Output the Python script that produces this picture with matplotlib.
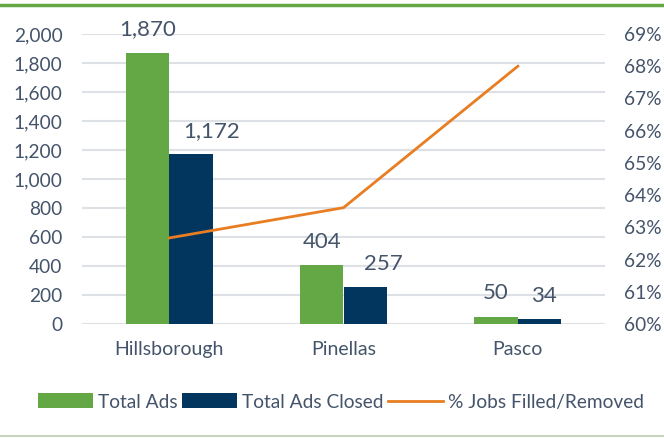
import matplotlib
matplotlib.use("Agg")
import matplotlib.pyplot as plt
import numpy as np
from matplotlib.lines import Line2D
from matplotlib.ticker import FuncFormatter

plt.rcParams['font.family'] = ['Lato', 'DejaVu Sans']

categories = ["Hillsborough", "Pinellas", "Pasco"]
total_ads = [1870, 404, 50]
total_ads_closed = [1172, 257, 34]
pct_filled = [62.67, 63.61, 68.0]
left_ticks = [0, 200, 400, 600, 800, 1000, 1200, 1400, 1600, 1800, 2000]
right_ticks = [60, 61, 62, 63, 64, 65, 66, 67, 68, 69]

GREEN = "#64A845"
NAVY = "#03365E"
ORANGE = "#E87D22"
TEXT = "#44546A"
GRID = "#DDE1E6"

fig = plt.figure(figsize=(6.64, 4.38), dpi=100)
ax = fig.add_axes([82/664, 1-324/438, (605-82)/664, (324-34)/438])
ax2 = ax.twinx()

x = np.arange(len(categories))
w = 0.25
ax.set_zorder(1)
ax2.set_zorder(2)
ax.patch.set_visible(False)

b1 = ax.bar(x - w/2, total_ads, width=w, color=GREEN, zorder=3, label="Total Ads")
b2 = ax.bar(x + w/2, total_ads_closed, width=w, color=NAVY, zorder=3, label="Total Ads Closed")
ln, = ax2.plot(x, pct_filled, color=ORANGE, lw=2, label="% Jobs Filled/Removed")

ax.set_xlim(-0.5, 2.5)
ax.set_ylim(0, 2000)
ax2.set_ylim(60, 69)
ax.set_yticks(left_ticks)
ax2.set_yticks(right_ticks)
ax.yaxis.set_major_formatter(FuncFormatter(lambda v, p: f"{int(v):,}"))
ax2.yaxis.set_major_formatter(FuncFormatter(lambda v, p: f"{int(round(v))}%"))
ax.set_xticks(x)
ax.set_xticklabels(categories)

ax.grid(axis='y', color=GRID, lw=1.5, zorder=0)
ax.set_axisbelow(True)
for a in (ax, ax2):
    for s in a.spines.values():
        s.set_visible(False)
ax.tick_params(axis='y', length=0, pad=14, labelsize=13.8, labelcolor=TEXT)
ax2.tick_params(axis='y', length=0, pad=14, labelsize=13.8, labelcolor=TEXT)
ax.tick_params(axis='x', length=0, pad=12, labelsize=14, labelcolor=TEXT)

# value labels
green_dx = [0, 0, 0]
navy_dx = [15, 13, 3]
for i, v in enumerate(total_ads):
    ax.annotate(f"{v:,}", (x[i] - w/2, v), xytext=(green_dx[i], 12.5),
                textcoords='offset points', ha='center', va='baseline',
                fontsize=16, color=TEXT)
for i, v in enumerate(total_ads_closed):
    ax.annotate(f"{v:,}", (x[i] + w/2, v), xytext=(navy_dx[i], 12),
                textcoords='offset points', ha='center', va='baseline',
                fontsize=16, color=TEXT)

fig.legend(handles=[b1, b2, ln], loc='center', bbox_to_anchor=(341/664, 1-402/438),
           ncol=3, frameon=False, fontsize=13.8, labelcolor=TEXT,
           handlelength=2.85, handletextpad=0.26, columnspacing=0.26, handleheight=0.83,
           borderpad=0.2)

fig.add_artist(Line2D([0, 1], [1-4.5/438, 1-4.5/438], color=GREEN, lw=2.5, transform=fig.transFigure))
fig.add_artist(Line2D([0, 1], [1-436/438, 1-436/438], color="#C9D6BE", lw=1.5, transform=fig.transFigure))

fig.savefig("out.png", dpi=100)
